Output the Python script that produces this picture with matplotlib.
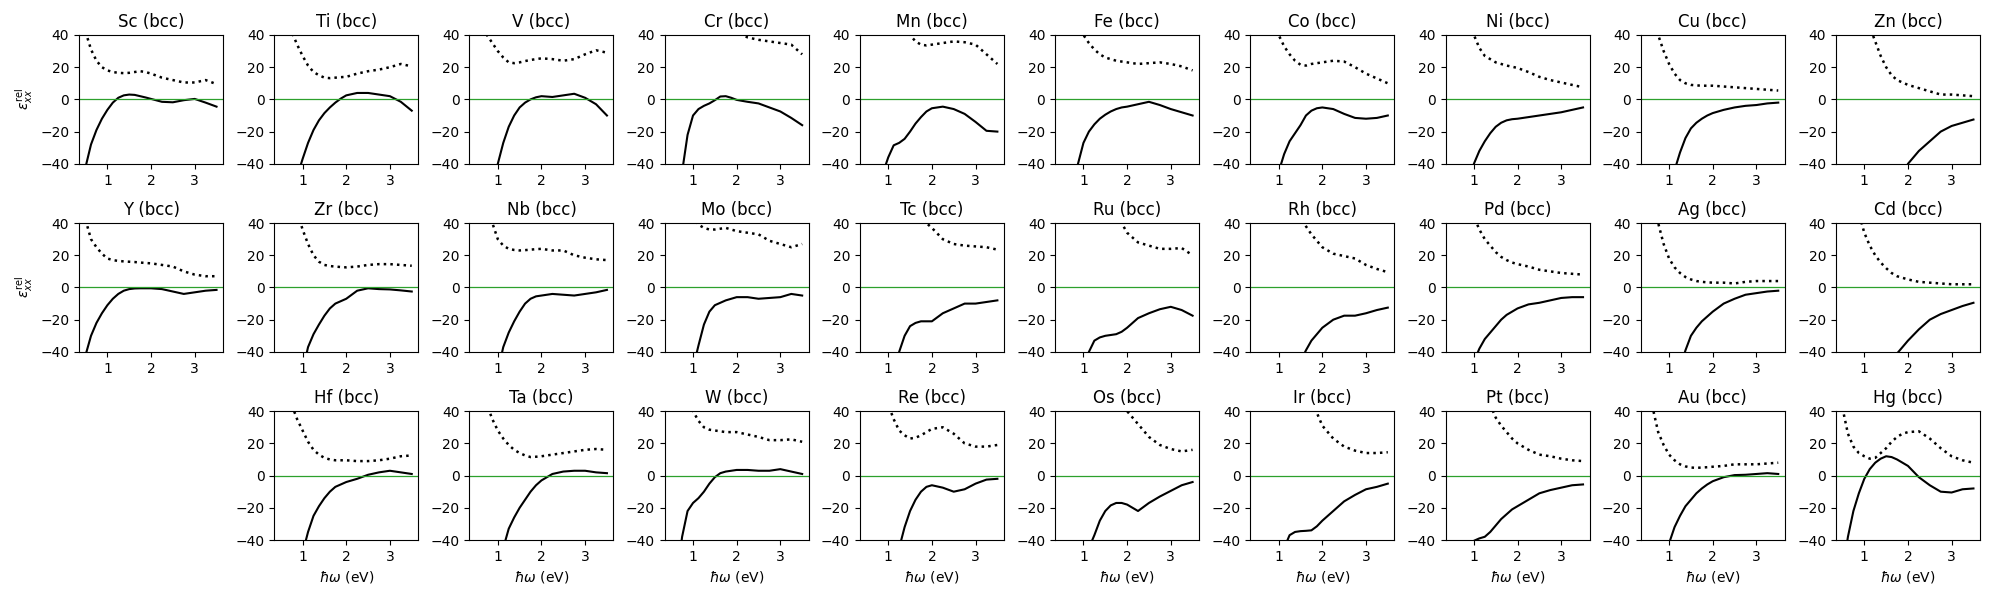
import matplotlib
matplotlib.use("Agg")
import matplotlib.pyplot as plt

# photon energy grid (eV): finer below 2 eV where the curves are steep
energy = [0.5, 0.625, 0.75, 0.875, 1.0, 1.125, 1.25, 1.375, 1.5, 1.625, 1.75, 1.875,
          2.0, 2.25, 2.5, 2.75, 3.0, 3.25, 3.5]

sc_re = [-42, -28, -19, -12, -6.5, -2, 1, 2.5, 3, 2.8, 2, 1.2, 0.3, -1.5, -1.8, -0.5, 0.3, -2, -4.5]
sc_im = [42, 31, 24, 20, 18, 17, 16.5, 16.3, 16.5, 17, 17.5, 17, 16, 13.5, 12, 10.5, 10.5, 12, 9.5]
ti_re = [-80, -70, -60, -48, -37, -27, -19, -13, -8.5, -5, -2, 0.5, 2.5, 4, 4, 3, 2, -1.5, -7]
ti_im = [60, 50, 42, 34, 27, 21, 17, 15, 13.5, 13.2, 13.5, 13.8, 14, 16, 17.5, 18.5, 20, 22, 20.5]
v_re = [-80, -70, -60, -50, -40, -27, -17, -10, -5, -2, 0, 1.3, 2, 1.5, 2.5, 3.5, 1, -3, -10]
v_im = [60, 50, 40, 35, 30, 26, 23, 22.5, 23, 23.8, 24.5, 25, 25.5, 25, 24, 25, 28, 30.5, 29]
cr_re = [-90, -70, -45, -22, -10, -6, -4, -2.5, -0.5, 1.8, 2, 1, -0.3, -1.5, -2.5, -5, -7.5, -11.5, -16]
cr_im = [90, 82, 75, 68, 62, 58, 54, 51, 48, 46, 44, 43, 42, 38.5, 37, 36, 35, 34, 28]
mn_re = [-75, -65, -55, -46, -36, -28.5, -27, -24.5, -20, -15, -11, -7.5, -5.5, -4.5, -6, -9, -14, -19.5, -20]
mn_im = [80, 72, 65, 58, 52, 48, 44, 42, 40, 36, 34, 33.5, 34, 35, 36, 35.5, 34, 28, 22]
fe_re = [-85, -70, -55, -40, -27, -20, -15.5, -12, -9.5, -7.5, -6, -5, -4.5, -3, -1.5, -3.5, -6, -8, -10]
fe_im = [80, 65, 55, 47, 40, 35, 31, 28, 26, 25, 24, 23.5, 23, 22, 22.5, 23, 22, 20.5, 18]
co_re = [-95, -82, -70, -57, -45, -34, -26, -21, -16, -10, -7, -5.5, -5, -6, -9, -11.5, -12, -11.5, -10]
co_im = [80, 70, 60, 50, 40, 33, 28, 24, 21.5, 21, 22, 22.5, 23, 24, 23.5, 20, 16, 13, 10]
ni_re = [-90, -78, -65, -52, -40, -32, -26, -21, -17, -14.5, -13, -12.3, -12, -11, -10, -9, -8, -6.5, -5]
ni_im = [80, 70, 60, 50, 40, 32, 27, 25, 23, 22, 21, 20.3, 19.5, 17, 14, 12, 10.5, 9, 7.5]
cu_re = [-110, -95, -80, -67, -55, -44, -33, -24, -18, -14.5, -12, -10, -8.5, -6.5, -5, -4, -3.5, -2.5, -2]
cu_im = [70, 53, 40, 30, 22, 16, 12, 10, 9, 8.7, 8.5, 8.5, 8.5, 8, 7.5, 7, 6.5, 6, 5.5]
zn_re = [-150, -140, -130, -120, -110, -100, -90, -82, -75, -65, -55, -47, -40, -32, -26, -20, -16.5, -14.5, -12.5]
zn_im = [90, 80, 70, 62, 55, 45, 36, 27, 20, 15, 12, 10.5, 9, 7, 5, 3, 3, 2.5, 2]

y_re = [-42, -30, -22, -16, -11, -7, -4, -2, -1, -0.6, -0.5, -0.5, -0.5, -1, -2.5, -4, -3, -2, -1.5]
y_im = [42, 30, 25, 21, 18, 17, 16.5, 16.2, 16, 15.8, 15.5, 15.2, 15, 14, 13, 10, 8, 7, 7]
zr_re = [-100, -88, -75, -63, -52, -37, -29, -23, -17.5, -13, -10, -8.5, -7, -2, -0.5, -1, -1.2, -1.8, -2.5]
zr_im = [90, 75, 60, 47, 36, 27, 20, 16, 14, 13.3, 13, 12.7, 12.5, 13, 14, 14.5, 14.5, 14, 13.5]
nb_re = [-100, -88, -75, -63, -52, -37, -28, -21, -15, -10, -7, -5.5, -5, -4, -4.5, -5, -4, -3, -1.5]
nb_im = [70, 60, 50, 40, 30, 26, 24, 23.3, 23, 23.2, 23.5, 23.8, 24, 23, 23, 20, 18.5, 17.5, 17]
mo_re = [-100, -88, -75, -62, -50, -36, -23, -15, -11, -9.5, -8, -7, -6, -6, -7, -6.5, -6, -4, -5]
mo_im = [70, 62, 55, 48, 43, 39, 37, 36, 36, 36.5, 37, 36, 35, 34, 33, 29, 27, 25, 27]
tc_re = [-120, -110, -100, -88, -75, -58, -40, -30, -24, -22, -21, -21, -21, -16, -13, -10, -10, -9, -8]
tc_im = [100, 90, 80, 72, 65, 60, 55, 51, 47, 45, 44, 40, 37, 30, 27, 26, 25.5, 25, 23.5]
ru_re = [-120, -110, -100, -75, -50, -40, -33, -31, -30, -29.5, -29, -27.5, -25, -19, -16, -13.5, -12, -14, -17.5]
ru_im = [100, 92, 85, 77, 70, 65, 60, 55, 50, 47, 44, 40, 34, 28, 26, 24, 24, 24.5, 20]
rh_re = [-130, -120, -110, -100, -90, -80, -70, -58, -46, -39, -33, -29, -25, -20, -17.5, -17.5, -16, -14, -12.5]
rh_im = [110, 100, 90, 80, 70, 62, 55, 49, 44, 38, 33, 29, 25, 21, 19.5, 18, 14, 11.5, 9.5]
pd_re = [-110, -95, -80, -63, -46, -38, -32, -28, -24, -20, -17, -15, -13, -10.5, -9.5, -8, -6.5, -6, -6]
pd_im = [90, 80, 70, 56, 44, 36, 30, 26, 22, 19, 17, 15.5, 14.5, 13, 11, 10, 9, 8.5, 8]
ag_re = [-150, -130, -110, -92, -75, -62, -50, -39, -30, -25, -21, -18, -15, -10, -7, -4.5, -3.5, -2.5, -2]
ag_im = [80, 58, 40, 27, 18, 12.5, 9, 6.5, 5, 4, 3.5, 3.2, 3, 3, 2.5, 3.5, 4, 4, 4]
cd_re = [-160, -145, -130, -115, -100, -90, -80, -70, -60, -50, -41, -37, -33, -26, -20, -16.5, -14, -11.5, -9.5]
cd_im = [80, 70, 60, 46, 34, 26, 20, 15.5, 12, 9, 7, 6, 5, 3.5, 3, 2.5, 2, 2, 2]

hf_re = [-110, -95, -80, -64, -48, -35, -25, -19, -14, -10, -7, -5.5, -4, -2, 0.5, 2, 3, 2, 1]
hf_im = [80, 60, 44, 35, 28, 21, 16, 13, 11, 10, 9.5, 9.5, 9.5, 9, 9, 9.5, 10.5, 12, 12.5]
ta_re = [-120, -105, -90, -75, -60, -45, -33, -26, -20, -15, -10, -6, -3, 1, 2.5, 3, 3, 2, 1.5]
ta_im = [70, 55, 44, 35, 28, 23, 19, 16, 14, 12.5, 11.5, 11.7, 12, 13, 14, 15, 16, 16.5, 16]
w_re = [-100, -65, -38, -22, -17, -14, -10, -5, -1, 1.5, 2.5, 3, 3.5, 3.5, 3, 3, 4, 2.5, 1]
w_im = [80, 70, 60, 50, 40, 34, 30, 28.5, 28, 27.5, 27, 27, 27, 25.5, 24, 22, 22, 22.5, 21]
re_re = [-130, -120, -110, -97, -85, -65, -45, -32, -22, -15, -10, -7, -6, -7.5, -10, -8.5, -5, -2.5, -2]
re_im = [90, 77, 65, 54, 44, 35, 28, 25, 23, 23.5, 25, 27, 29, 30, 26, 20, 18, 18, 19]
os_re = [-130, -120, -110, -80, -52, -45, -37, -28, -22, -18.5, -17, -17, -18, -22, -17, -13, -9.5, -6, -4]
os_im = [120, 110, 100, 92, 85, 77, 70, 65, 60, 55, 50, 45, 40, 32, 24, 19, 16.5, 15, 16]
ir_re = [-130, -120, -110, -80, -52, -45, -37, -35, -34.5, -34.3, -34, -31.5, -28, -22, -16, -12, -8.5, -7, -5]
ir_im = [120, 110, 100, 92, 85, 77, 70, 64, 58, 52, 47, 39, 31, 23, 18, 15.5, 14, 14, 14.5]
pt_re = [-120, -105, -90, -65, -40.5, -39, -38, -35, -31, -27, -24, -21, -19, -15, -11, -9, -7.5, -6, -5.5]
pt_im = [110, 100, 90, 80, 70, 61, 52, 44, 36, 31, 27, 23, 20, 16, 13, 12, 10.5, 9.5, 9]
au_re = [-120, -100, -80, -60, -42, -32, -25, -19, -15, -11, -8, -5.5, -3.5, -1, 0.3, 0.5, 1, 1.5, 1]
au_im = [60, 42, 27, 19, 13, 9.5, 7, 5.7, 5, 4.8, 5, 5.2, 5.5, 6, 7, 7, 7, 7.5, 8]
hg_re = [-60, -38, -22, -11, -2, 4, 8, 10.5, 12, 11.5, 10, 8, 6, -1, -6, -10, -10.5, -8.5, -8]
hg_im = [42, 26, 18, 14, 12, 10.5, 11, 14, 17, 21, 24, 26, 27, 27.5, 23, 17, 12, 9.5, 8]

rows = [
    [("Sc", sc_re, sc_im), ("Ti", ti_re, ti_im), ("V", v_re, v_im), ("Cr", cr_re, cr_im),
     ("Mn", mn_re, mn_im), ("Fe", fe_re, fe_im), ("Co", co_re, co_im), ("Ni", ni_re, ni_im),
     ("Cu", cu_re, cu_im), ("Zn", zn_re, zn_im)],
    [("Y", y_re, y_im), ("Zr", zr_re, zr_im), ("Nb", nb_re, nb_im), ("Mo", mo_re, mo_im),
     ("Tc", tc_re, tc_im), ("Ru", ru_re, ru_im), ("Rh", rh_re, rh_im), ("Pd", pd_re, pd_im),
     ("Ag", ag_re, ag_im), ("Cd", cd_re, cd_im)],
    [None, ("Hf", hf_re, hf_im), ("Ta", ta_re, ta_im), ("W", w_re, w_im), ("Re", re_re, re_im),
     ("Os", os_re, os_im), ("Ir", ir_re, ir_im), ("Pt", pt_re, pt_im), ("Au", au_re, au_im),
     ("Hg", hg_re, hg_im)],
]

fig, axes = plt.subplots(3, 10, figsize=(20, 6))
fig.subplots_adjust(left=0.0395, right=0.99, bottom=0.1, top=0.9417, wspace=0.355, hspace=0.46)

for i, row in enumerate(rows):
    for j, panel in enumerate(row):
        ax = axes[i, j]
        if panel is None:
            ax.axis("off")
            continue
        name, re, im = panel
        ax.plot(energy, re, color="k", lw=1.5)
        ax.plot(energy, im, color="k", ls=":", lw=1.8)
        ax.axhline(0, color="tab:green", lw=0.9)
        ax.set_ylim(-40, 40)
        ax.set_yticks([-40, -20, 0, 20, 40])
        ax.set_xticks([1, 2, 3])
        ax.set_title(name + " (bcc)")
        if j == 0:
            ax.set_ylabel(r"$\varepsilon_{xx}^{\rm rel}$")
        if i == 2:
            ax.set_xlabel(r"$\hbar\omega$ (eV)")

fig.savefig("out.png", dpi=100)
